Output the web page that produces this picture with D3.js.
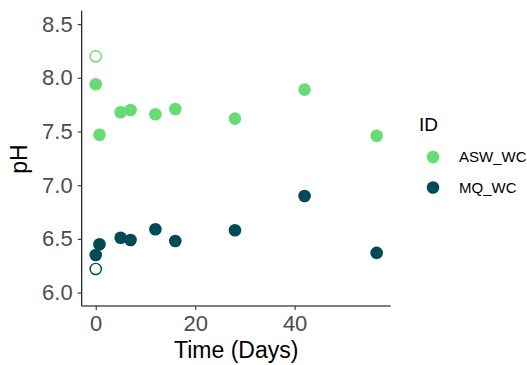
<!DOCTYPE html>
<html>
<head>
<meta charset="utf-8">
<script src="https://cdn.jsdelivr.net/npm/d3@7"></script>
<style>
  body { margin: 0; background: #fff; }
  text { font-family: "Liberation Sans", Arial, sans-serif; }
</style>
</head>
<body>
<script>
const width = 527,
  height = 365;

// data
const groups = ["ASW_WC", "MQ_WC"];
const groupColors = ["#67DC75", "#004B55"];

const aswDays = [0, 0.75, 5, 7, 12, 16, 28, 42, 56.5];
const aswPH = [7.94, 7.47, 7.68, 7.70, 7.66, 7.71, 7.62, 7.89, 7.46];
const mqDays = [0, 0.75, 5, 7, 12, 16, 28, 42, 56.5];
const mqPH = [6.35, 6.45, 6.51, 6.49, 6.59, 6.48, 6.58, 6.90, 6.37];

// starting values shown as open circles
const startDays = [0, 0];
const startPH = [8.2, 6.22];
const startGroup = ["ASW_WC", "MQ_WC"];

const xTicks = [0, 20, 40];
const yTicks = [6.0, 6.5, 7.0, 7.5, 8.0, 8.5];

const points = [
  ...aswDays.map((d, i) => ({ day: d, ph: aswPH[i], id: "ASW_WC" })),
  ...mqDays.map((d, i) => ({ day: d, ph: mqPH[i], id: "MQ_WC" })),
];
const starts = startDays.map((d, i) => ({ day: d, ph: startPH[i], id: startGroup[i] }));

const plotLeft = 81.7,
  plotRight = 390.7,
  plotTop = 10.7,
  plotBottom = 306;

const pickColor = d3.scaleOrdinal().domain(groups).range(groupColors);

// ggplot style 5% expansion
const xMin = 0, xMax = 56.5, xPad = (xMax - xMin) * 0.05;
const yMin = 6.0, yMax = 8.5, yPad = (yMax - yMin) * 0.05;

const xScale = d3.scaleLinear().domain([xMin - xPad, xMax + xPad]).range([plotLeft, plotRight]);
const yScale = d3.scaleLinear().domain([yMin - yPad, yMax + yPad]).range([plotBottom, plotTop]);

const svg = d3.select("body").append("svg").attr("width", width).attr("height", height);

// axes
const axisX = d3.axisBottom(xScale).tickValues(xTicks).tickSize(4).tickPadding(5).tickSizeOuter(0);
const gx = svg.append("g").attr("transform", `translate(0,${plotBottom})`).call(axisX);

const axisY = d3.axisLeft(yScale).tickValues(yTicks).tickFormat(d3.format(".1f")).tickSize(4).tickPadding(5).tickSizeOuter(0);
const gy = svg.append("g").attr("transform", `translate(${plotLeft},0)`).call(axisY);

[gx, gy].forEach((g) => {
  g.select(".domain").attr("stroke", "#000").attr("stroke-width", 1.1);
  g.selectAll(".tick line").attr("stroke", "#333").attr("stroke-width", 1.1);
  g.selectAll(".tick text").attr("fill", "#4d4d4d").attr("font-size", 22);
});
gx.select(".domain").attr("d", `M${plotLeft},0H${plotRight}`);
gy.select(".domain").attr("d", `M0,${plotTop}V${plotBottom}`);

// axis titles
svg.append("text")
  .attr("x", (plotLeft + plotRight) / 2)
  .attr("y", 358)
  .attr("text-anchor", "middle")
  .attr("font-size", 23)
  .text("Time (Days)");

svg.append("g")
  .attr("transform", `translate(27,159) rotate(-90)`)
  .append("text")
  .attr("text-anchor", "middle")
  .attr("font-size", 23)
  .text("pH");

// points
svg.append("g")
  .selectAll("circle")
  .data(points)
  .enter()
  .append("circle")
  .attr("cx", (d) => xScale(d.day))
  .attr("cy", (d) => yScale(d.ph))
  .attr("r", 6.3)
  .attr("fill", (d) => pickColor(d.id));

svg.append("g")
  .selectAll("circle")
  .data(starts)
  .enter()
  .append("circle")
  .attr("cx", (d) => xScale(d.day))
  .attr("cy", (d) => yScale(d.ph))
  .attr("r", 5.6)
  .attr("fill", "none")
  .attr("stroke-width", 1.4)
  .attr("stroke", (d) => pickColor(d.id));

////////// Legend ///////////
const legend = svg.append("g").attr("transform", "translate(419,0)");

legend.append("text")
  .attr("x", 0)
  .attr("y", 131)
  .attr("font-size", 19)
  .text("ID");

const legendItem = legend.selectAll(".legend-item")
  .data(groups)
  .enter()
  .append("g")
  .attr("class", "legend-item")
  .attr("transform", (d, i) => `translate(14,${157 + i * 30.5})`);

legendItem.append("circle").attr("r", 6.3).attr("fill", (d) => pickColor(d));
legendItem.append("text")
  .attr("x", 26)
  .attr("dy", "0.36em")
  .attr("font-size", 15)
  .text((d) => d);
</script>
</body>
</html>
